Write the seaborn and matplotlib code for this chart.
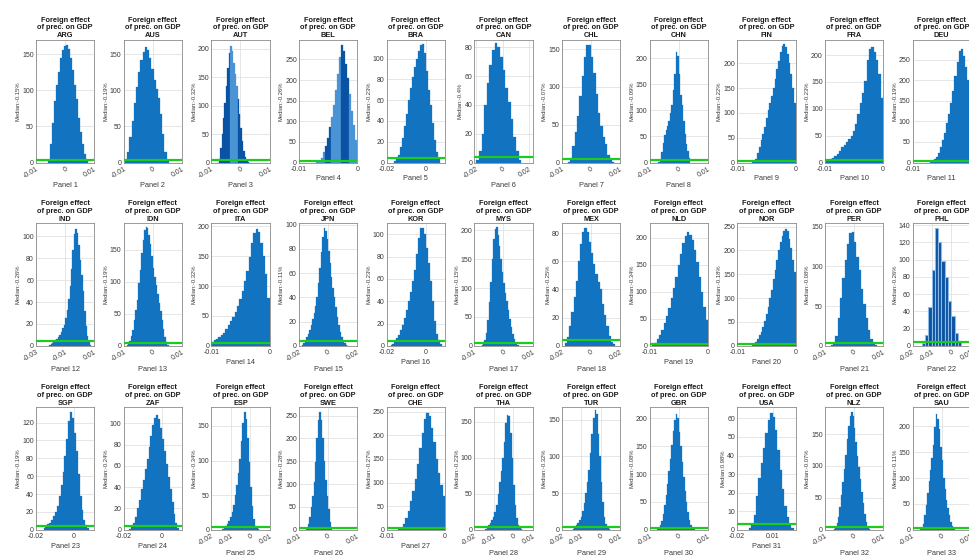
import numpy as np
import pandas as pd
import matplotlib
matplotlib.use("Agg")
import matplotlib.pyplot as plt
from matplotlib.ticker import MultipleLocator
import seaborn as sns

# ---------------------------------------------------------------- data
countries = ["ARG", "AUS", "AUT", "BEL", "BRA", "CAN", "CHL", "CHN", "FIN", "FRA", "DEU",
             "IND", "IDN", "ITA", "JPN", "KOR", "MYS", "MEX", "NLD", "NOR", "PER", "PHL",
             "SGP", "ZAF", "ESP", "SWE", "CHE", "THA", "TUR", "GBR", "USA", "NLZ", "SAU"]

medians = ["-0.15", "-0.19", "-0.32", "-0.26", "-0.23", "-0.4", "-0.07", "-0.09", "-0.22", "-0.23", "-0.19",
           "-0.26", "-0.19", "-0.32", "-0.11", "-0.23", "-0.15", "-0.25", "-0.34", "-0.18", "-0.08", "-0.26",
           "-0.19", "-0.24", "-0.34", "-0.28", "-0.27", "-0.23", "-0.32", "-0.08", "0.98", "-0.07", "-0.11"]

# histogram support (first / last bin edge) of the posterior draws
bin_lo = [-0.006, -0.0095, -0.008, -0.007, -0.016, -0.02, -0.008, -0.007, -0.0075, -0.01, -0.007,
          -0.021, -0.009, -0.01, -0.018, -0.018, -0.0075, -0.018, -0.0096, -0.0075, -0.008, -0.0153,
          -0.016, -0.017, -0.0144, -0.0075, -0.008, -0.0144, -0.0144, -0.0075, -0.01, -0.007, -0.0075]
bin_hi = [0.008, 0.0055, 0.003, 0.0, 0.007, 0.014, 0.008, 0.004, 0.0, 0.0, 0.0,
          0.008, 0.0055, 0.0, 0.014, 0.008, 0.0055, 0.0165, 0.0, 0.0, 0.008, 0.0051,
          0.008, 0.009, 0.0048, 0.0015, 0.0, 0.0048, 0.0048, 0.0055, 0.028, 0.0055, 0.0045]

# bin counts of the posterior draws, one list per country
counts = [
    [3, 25, 55, 85, 108, 126, 145, 156, 162, 163, 157, 145, 128, 108, 88, 62, 42, 25, 12, 3],
    [3, 15, 35, 58, 83, 105, 125, 142, 154, 160, 156, 145, 130, 115, 102, 90, 68, 40, 15, 3],
    [0, 6, 25, 50, 78, 105, 135, 165, 192, 205, 195, 175, 155, 135, 112, 85, 60, 38, 20, 9, 3, 1],
    [1, 4, 12, 25, 40, 60, 85, 110, 140, 175, 215, 255, 285, 270, 240, 205, 165, 125, 90, 55],
    [1, 3, 7, 15, 24, 35, 47, 60, 72, 82, 92, 100, 107, 113, 114, 105, 88, 70, 55, 38, 22, 10, 3],
    [2, 8, 20, 40, 55, 68, 78, 83, 80, 73, 64, 52, 42, 30, 18, 8, 2],
    [1, 6, 22, 40, 62, 88, 115, 140, 156, 155, 140, 118, 90, 66, 48, 34, 24, 10, 3, 1],
    [1, 4, 20, 38, 52, 62, 70, 80, 95, 110, 140, 170, 212, 205, 170, 130, 110, 80, 55, 35, 22, 8],
    [1, 3, 8, 20, 32, 45, 58, 72, 90, 105, 120, 135, 150, 168, 188, 205, 222, 235, 238, 232, 218, 200, 178, 150, 120],
    [3, 5, 7, 9, 12, 16, 22, 28, 33, 38, 44, 50, 58, 72, 90, 110, 130, 152, 190, 212, 215, 205, 190, 165, 120],
    [2, 4, 8, 14, 24, 38, 55, 72, 95, 118, 145, 175, 210, 245, 272, 275, 258, 232, 200, 165],
    [1, 2, 3, 4, 5, 6, 8, 10, 13, 16, 19, 25, 33, 43, 55, 70, 88, 102, 107, 103, 92, 78, 65, 50, 32, 18, 9, 4, 1],
    [1, 3, 8, 15, 25, 40, 56, 72, 98, 118, 145, 165, 180, 186, 184, 172, 158, 140, 122, 108, 95, 80, 66, 54, 40, 26, 14, 6, 2],
    [6, 9, 12, 15, 18, 22, 28, 34, 41, 48, 56, 66, 78, 92, 108, 125, 148, 172, 188, 195, 190, 172, 150, 120, 80],
    [1, 2, 4, 7, 10, 13, 17, 22, 27, 33, 40, 52, 64, 77, 90, 97, 95, 88, 78, 68, 57, 48, 40, 32, 24, 17, 11, 7, 4, 2, 1, 0],
    [1, 2, 4, 7, 10, 14, 19, 25, 32, 40, 48, 58, 68, 82, 97, 106, 106, 100, 88, 74, 58, 40, 22, 11, 5, 2],
    [1, 4, 10, 22, 45, 75, 110, 150, 185, 203, 205, 192, 172, 150, 128, 108, 92, 78, 62, 46, 32, 20, 11, 5, 2, 1],
    [2, 6, 14, 24, 35, 46, 60, 72, 81, 84, 81, 74, 66, 58, 51, 45, 40, 30, 22, 14, 7, 3, 1],
    [2, 6, 12, 20, 30, 42, 55, 70, 88, 108, 128, 150, 170, 190, 204, 210, 206, 196, 178, 155, 128, 100, 72, 48],
    [1, 3, 8, 15, 22, 30, 40, 52, 66, 82, 100, 118, 140, 160, 180, 200, 218, 230, 240, 244, 240, 225, 205, 180, 155],
    [1, 4, 12, 35, 60, 85, 108, 128, 142, 143, 130, 112, 95, 72, 52, 35, 20, 9, 3, 1],
    [3, 12, 45, 88, 136, 120, 98, 80, 52, 35, 15, 4],
    [2, 4, 6, 8, 11, 15, 20, 27, 38, 50, 65, 82, 102, 122, 132, 125, 108, 88, 62, 38, 22, 11, 5, 2],
    [1, 3, 6, 12, 20, 28, 38, 47, 57, 66, 78, 88, 98, 105, 108, 104, 96, 85, 74, 62, 50, 38, 26, 15, 6, 2],
    [1, 3, 5, 8, 12, 18, 26, 36, 50, 65, 82, 102, 128, 155, 170, 160, 132, 98, 62, 35, 16, 6, 2, 1],
    [3, 12, 28, 50, 75, 105, 148, 200, 240, 258, 240, 200, 150, 108, 75, 45, 18, 4],
    [1, 4, 12, 25, 40, 60, 82, 108, 140, 172, 205, 235, 248, 240, 215, 185, 150, 120, 95, 72],
    [1, 4, 6, 9, 13, 18, 25, 35, 50, 66, 82, 100, 122, 148, 160, 158, 135, 100, 62, 35, 16, 7, 3, 1],
    [1, 3, 6, 9, 13, 18, 26, 36, 50, 65, 82, 105, 130, 152, 163, 158, 130, 100, 65, 38, 18, 8, 3, 1],
    [1, 3, 8, 16, 28, 45, 62, 82, 105, 128, 152, 178, 198, 208, 200, 175, 150, 122, 95, 70, 50, 32, 18, 8, 3, 1],
    [1, 3, 8, 18, 28, 36, 44, 52, 59, 63, 61, 54, 43, 32, 22, 13, 7, 3, 1],
    [1, 4, 10, 20, 35, 55, 75, 95, 118, 142, 162, 178, 185, 178, 160, 138, 115, 98, 80, 60, 42, 25, 12, 5, 1],
    [1, 4, 12, 28, 48, 72, 95, 115, 138, 165, 198, 225, 215, 195, 160, 135, 100, 78, 58, 42, 28, 16, 7, 2],
]

# flat prior density drawn in green
prior_level = [4.0] * 30 + [3.3, 4.0, 4.0]

# axis ranges and ticks
x_limits = [(-0.01, 0.01), (-0.01, 0.01), (-0.01, 0.01), (-0.01, 0.0), (-0.02, 0.0097), (-0.0215, 0.0225),
            (-0.01, 0.01), (-0.01, 0.01), (-0.01, 0.0), (-0.01, 0.0), (-0.01, 0.0),
            (-0.03, 0.01), (-0.01, 0.01), (-0.01, 0.0), (-0.02, 0.02), (-0.02, 0.0097), (-0.01, 0.01),
            (-0.02, 0.02), (-0.01, 0.0), (-0.01, 0.0), (-0.01, 0.01), (-0.02, 0.01),
            (-0.02, 0.0107), (-0.02, 0.0104), (-0.02, 0.01), (-0.01, 0.01), (-0.01, 0.0), (-0.02, 0.01),
            (-0.02, 0.01), (-0.01, 0.01), (-0.02, 0.0295), (-0.01, 0.01), (-0.01, 0.01)]

x_ticks = [[-0.01, 0, 0.01], [-0.01, 0, 0.01], [-0.01, 0, 0.01], [-0.01, 0], [-0.02, 0], [-0.02, 0, 0.02],
           [-0.01, 0, 0.01], [-0.01, 0, 0.01], [-0.01, 0], [-0.01, 0], [-0.01, 0],
           [-0.03, -0.01, 0.01], [-0.01, 0, 0.01], [-0.01, 0], [-0.02, 0, 0.02], [-0.02, 0], [-0.01, 0, 0.01],
           [-0.02, 0, 0.02], [-0.01, 0], [-0.01, 0], [-0.01, 0, 0.01], [-0.02, -0.01, 0, 0.01],
           [-0.02, 0], [-0.02, 0], [-0.02, -0.01, 0, 0.01], [-0.01, 0, 0.01], [-0.01, 0], [-0.02, -0.01, 0, 0.01],
           [-0.02, -0.01, 0, 0.01], [-0.01, 0, 0.01], [-0.02, 0.01], [-0.01, 0, 0.01], [-0.01, 0, 0.01]]

y_top = [170, 170, 215, 297, 118, 85, 162, 235, 247, 228, 298,
         112, 191, 205, 101, 110, 212, 87, 227, 257, 154, 142,
         137, 115, 177, 268, 259, 170, 167, 220, 66, 192, 237]

y_step = [50, 50, 50, 50, 20, 20, 50, 50, 50, 50, 50,
          20, 50, 50, 20, 20, 50, 20, 50, 50, 50, 20,
          20, 20, 50, 50, 50, 50, 50, 50, 10, 50, 50]

# ---------------------------------------------------------------- style
sns.set_style("whitegrid")
plt.rcParams["font.family"] = ["Liberation Sans", "DejaVu Sans"]

BLUE = "#1273c1"
DARK = "#0a52a3"
LIGHT = "#4a93d5"
GREEN = "#1ccc1c"
INK = "#3a3a3a"

# shaded bands of the coarse-binned panels
dark_bands = {
    "AUT": [(-0.0085, -0.0034), (-0.0009, 0.004)],
    "BEL": [(-0.0055, -0.0044), (-0.0028, -0.0015)],
}

W, H = 969, 555
fig = plt.figure(figsize=(W / 100, H / 100), dpi=100)

ax_w, ax_h = 58.3, 122.5
col_x0, col_pitch = 36.0, 87.65
row_tops = [40.0, 223.3, 407.3]

for i, code in enumerate(countries):
    r, c = divmod(i, 11)
    left = col_x0 + c * col_pitch
    top = row_tops[r]
    ax = fig.add_axes([left / W, 1 - (top + ax_h) / H, ax_w / W, ax_h / H])

    h = np.asarray(counts[i], dtype=float)
    edges = np.linspace(bin_lo[i], bin_hi[i], len(h) + 1)
    centers = 0.5 * (edges[:-1] + edges[1:])
    df = pd.DataFrame({"effect": centers, "n": h})

    if code == "PHL":
        sns.histplot(data=df, x="effect", weights="n", bins=list(edges), stat="count", ax=ax,
                     color=DARK, edgecolor="#8dbbe6", linewidth=0.8, alpha=1.0, zorder=2)
    else:
        sns.histplot(data=df, x="effect", weights="n", bins=list(edges), stat="count", ax=ax,
                     color=BLUE, edgecolor=BLUE, linewidth=0.2, alpha=1.0, zorder=2)
        if code in dark_bands:
            for p in ax.patches:
                xc = p.get_x() + p.get_width() / 2
                dark = any(a <= xc < b for a, b in dark_bands[code])
                col = DARK if dark else LIGHT
                p.set_facecolor(col)
                p.set_edgecolor(col)

    ax.axhline(prior_level[i], color=GREEN, lw=1.6, zorder=3)

    ax.set_xlim(*x_limits[i])
    ax.set_ylim(0, y_top[i])
    ticks = x_ticks[i]
    ax.set_xticks(ticks)
    labels = [f"{t:g}" for t in ticks]
    ax.yaxis.set_major_locator(MultipleLocator(y_step[i]))

    ax.set_axisbelow(True)
    ax.grid(True, color="#dcdcdc", lw=0.5)
    for s in ax.spines.values():
        s.set_color("#8a8a8a")
        s.set_linewidth(0.6)
    ax.tick_params(axis="both", direction="in", length=2, width=0.5, colors="#8a8a8a",
                   labelcolor=INK, labelsize=5, pad=1.5)
    ax.tick_params(axis="x", pad=2.2)

    if len(ticks) >= 3:
        ax.set_xticklabels(labels, rotation=30, ha="right", va="top", rotation_mode="anchor")
    else:
        ax.set_xticklabels(labels)

    ax.set_xlabel(f"Panel {i + 1}", fontsize=5.3, color=INK, labelpad=2)
    ax.set_ylabel(f"Median:{medians[i]}%", fontsize=4.2, color=INK, labelpad=1)
    ax.set_title(f"Foreign effect\nof prec. on GDP\n{code}", fontsize=5.3, fontweight="bold",
                 color="#1a1a1a", pad=2, linespacing=1.15)

fig.savefig("out.png", dpi=100)
